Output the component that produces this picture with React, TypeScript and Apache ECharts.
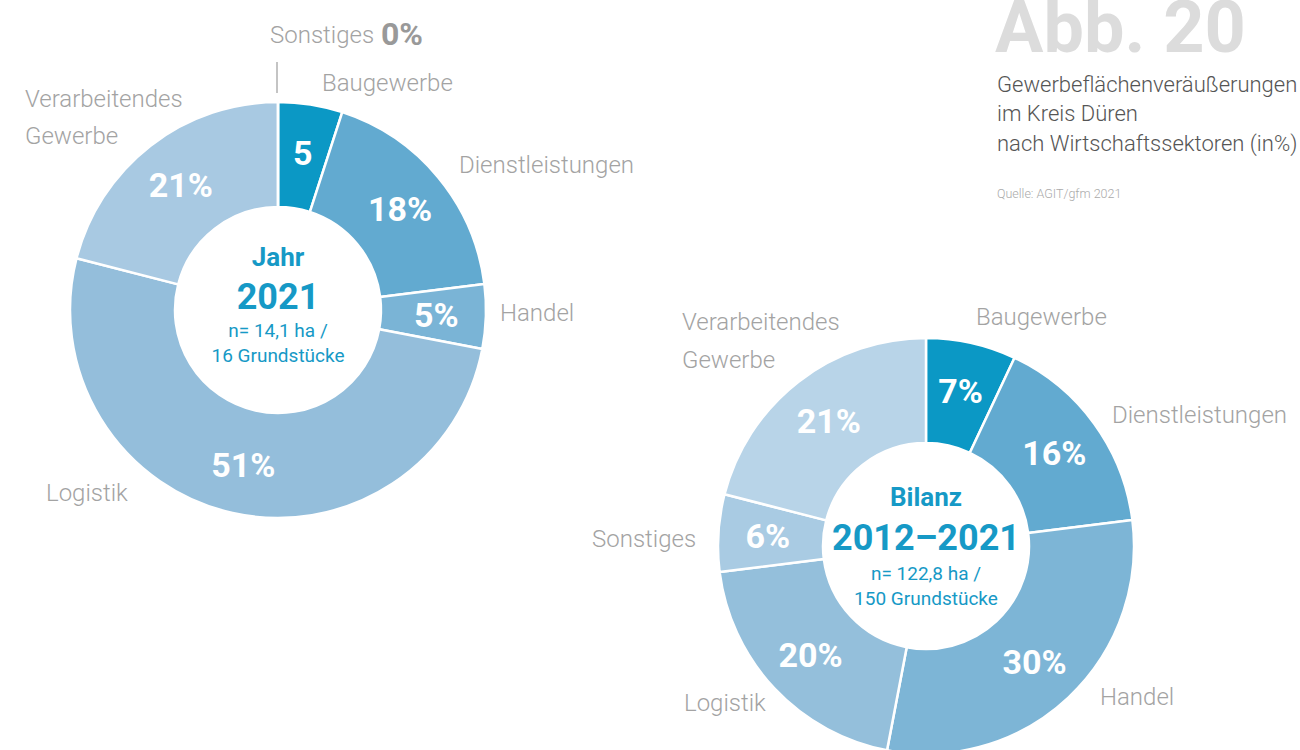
import React, { useEffect, useRef } from "react";
import * as echarts from "echarts";

const categories2021 = ["Baugewerbe", "Dienstleistungen", "Handel", "Logistik", "Verarbeitendes Gewerbe", "Sonstiges"];
const values2021 = [5, 18, 5, 51, 21, 0];
const colors2021 = ["#0b98c5", "#62aad0", "#7ab4d6", "#94bedb", "#a8c9e2", "#b8d4e8"];

const categoriesBilanz = ["Baugewerbe", "Dienstleistungen", "Handel", "Logistik", "Sonstiges", "Verarbeitendes Gewerbe"];
const valuesBilanz = [7, 16, 30, 20, 6, 21];
const colorsBilanz = ["#0b98c5", "#62aad0", "#7db5d6", "#94bfdb", "#a9cbe3", "#b8d4e8"];

const titleText = "Abb. 20";
const subtitleLines = ["Gewerbeflächenveräußerungen", "im Kreis Düren", "nach Wirtschaftssektoren (in%)"];
const sourceText = "Quelle: AGIT/gfm 2021";

const FONT = "Roboto, 'Noto Sans', sans-serif";
const GRAY = "#a3a3a3";
const BLUE = "#1699c6";

function outerText(text: string, x: number, y: number, align = "left") {
  return {
    type: "text",
    style: { text, x, y, align, verticalAlign: "middle", fontFamily: FONT, fontSize: 24, fontWeight: 300, fill: GRAY },
  };
}

function centerText(text: string, x: number, y: number, size: number, weight: any) {
  return {
    type: "text",
    style: { text, x, y, align: "center", verticalAlign: "middle", fontFamily: FONT, fontSize: size, fontWeight: weight, fill: BLUE },
  };
}

export default function App() {
  const ref = useRef<HTMLDivElement>(null);
  useEffect(() => {
    if (!ref.current) return;
    const chart = echarts.init(ref.current, null, { renderer: "svg" });
    const mkData = (cats: string[], vals: number[], cols: string[]) =>
      cats.map((c, i) => ({ name: c, value: vals[i], itemStyle: { color: cols[i] } }));
    const labelStyle = {
      show: true,
      position: "inside",
      color: "#ffffff",
      fontFamily: FONT,
      fontSize: 34,
      fontWeight: "bold",
    };
    chart.setOption({
      animation: false,
      backgroundColor: "#ffffff",
      series: [
        {
          type: "pie",
          center: [278, 310],
          radius: [103, 208],
          startAngle: 90,
          silent: true,
          emphasis: { disabled: true },
          itemStyle: { borderColor: "#ffffff", borderWidth: 2.5 },
          label: {
            ...labelStyle,
            formatter: (p: any) => (p.value === 0 ? "" : p.name === "Baugewerbe" ? `${p.value}` : `${p.value}%`),
          },
          labelLine: { show: false },
          data: mkData(categories2021, values2021, colors2021),
        },
        {
          type: "pie",
          center: [926, 546],
          radius: [103, 208],
          startAngle: 90,
          silent: true,
          emphasis: { disabled: true },
          itemStyle: { borderColor: "#ffffff", borderWidth: 2.5 },
          label: { ...labelStyle, formatter: (p: any) => `${p.value}%` },
          labelLine: { show: false },
          data: mkData(categoriesBilanz, valuesBilanz, colorsBilanz),
        },
      ],
      graphic: [
        {
          type: "text",
          style: { text: titleText, x: 995, y: 63, align: "left", verticalAlign: "bottom", fontFamily: FONT, fontSize: 72, fontWeight: "bold", fill: "#dcdcdc" },
        },
        ...subtitleLines.map((t, i) => ({
          type: "text",
          style: { text: t, x: 997, y: 84 + i * 29.5, align: "left", verticalAlign: "middle", fontFamily: FONT, fontSize: 22, fontWeight: 300, fill: "#555555" },
        })),
        {
          type: "text",
          style: { text: sourceText, x: 997, y: 193, align: "left", verticalAlign: "middle", fontFamily: FONT, fontSize: 12.5, fontWeight: 300, fill: "#aaaaaa" },
        },
        // left chart outer labels
        outerText("Sonstiges", 270, 35),
        {
          type: "text",
          style: { text: "0%", x: 381, y: 34, align: "left", verticalAlign: "middle", fontFamily: FONT, fontSize: 32, fontWeight: "bold", fill: "#999999" },
        },
        { type: "line", shape: { x1: 277, y1: 62, x2: 277, y2: 93 }, style: { stroke: "#b0b0b0", lineWidth: 1.5 } },
        outerText("Baugewerbe", 322, 83),
        outerText("Verarbeitendes", 25, 99),
        outerText("Gewerbe", 25, 136),
        outerText("Dienstleistungen", 459, 165),
        outerText("Handel", 500, 313),
        outerText("Logistik", 46, 493),
        // right chart outer labels
        outerText("Verarbeitendes", 682, 322),
        outerText("Gewerbe", 682, 360),
        outerText("Baugewerbe", 976, 317),
        outerText("Dienstleistungen", 1112, 415),
        outerText("Sonstiges", 592, 539),
        outerText("Handel", 1100, 697),
        outerText("Logistik", 684, 703),
        // center texts
        centerText("Jahr", 278, 257, 26, "bold"),
        centerText("2021", 278, 297, 36, "bold"),
        centerText("n= 14,1 ha /", 278, 330, 19, "normal"),
        centerText("16 Grundstücke", 278, 355, 19, "normal"),
        centerText("Bilanz", 926, 497, 26, "bold"),
        centerText("2012–2021", 926, 538, 36, "bold"),
        centerText("n= 122,8 ha /", 926, 573, 19, "normal"),
        centerText("150 Grundstücke", 926, 598, 19, "normal"),
      ],
    });
    return () => chart.dispose();
  }, []);
  return <div ref={ref} style={{ position: "absolute", left: 0, top: 0, width: 1300, height: 750 }} />;
}
